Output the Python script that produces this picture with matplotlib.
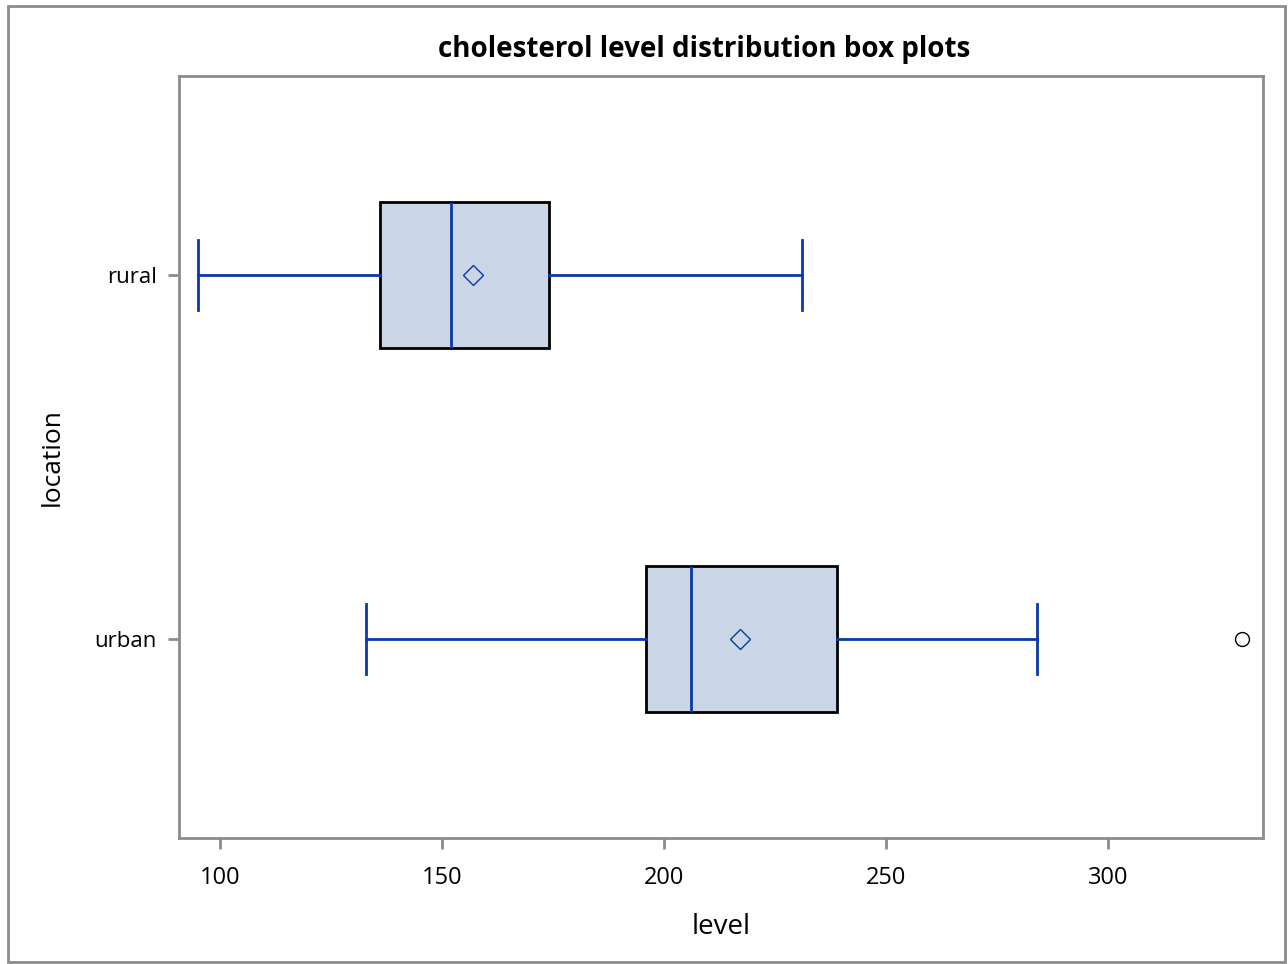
import matplotlib.pyplot as plt
from matplotlib.patches import Rectangle

# box plot statistics
locations = ['urban', 'rural']
whislo = [133, 95]
q1 = [196, 136]
med = [206, 152]
mean = [217, 157]
q3 = [239, 174]
whishi = [284, 231]
outliers = [[330], []]

plt.rcParams['font.family'] = ['Open Sans', 'DejaVu Sans']

blue = '#0a3aa8'
gray = '#8c8c8c'

fig = plt.figure(figsize=(12.88, 9.64), dpi=100)
ax = fig.add_axes([179 / 1288, 1 - 838 / 964, (1263 - 179) / 1288, (838 - 76) / 964])

stats = []
for i in range(len(locations)):
    stats.append(dict(label=locations[i], whislo=whislo[i], q1=q1[i], med=med[i],
                      q3=q3[i], whishi=whishi[i], mean=mean[i], fliers=outliers[i]))

ax.bxp(stats, positions=[0, 1], orientation='horizontal', widths=0.4, capwidths=0.19,
       patch_artist=True, showmeans=True,
       boxprops=dict(facecolor='#cad5e5', edgecolor='black', linewidth=2),
       whiskerprops=dict(color=blue, linewidth=2),
       capprops=dict(color=blue, linewidth=2),
       medianprops=dict(color=blue, linewidth=2),
       meanprops=dict(marker='D', markerfacecolor='none', markeredgecolor=blue,
                      markersize=10, markeredgewidth=1),
       flierprops=dict(marker='o', markerfacecolor='none', markeredgecolor='black',
                       markersize=10, markeredgewidth=1))

ax.set_xlim(90.8, 334.8)
ax.set_ylim(-0.547, 1.547)
ax.set_xticks([100, 150, 200, 250, 300])
ax.set_yticks([0, 1])
ax.set_yticklabels(locations)

for sp in ax.spines.values():
    sp.set_color(gray)
    sp.set_linewidth(2)
ax.tick_params(axis='both', colors=gray, labelcolor='black',
               length=8, width=2)
ax.tick_params(axis='x', pad=12, labelsize=17)
ax.tick_params(axis='y', pad=8, labelsize=16)

ax.set_xlabel('level', fontsize=20, labelpad=17)
ax.set_ylabel('location', fontsize=19, labelpad=21)
ax.set_title('cholesterol level distribution box plots', fontsize=20,
             fontweight='bold', pad=14, x=0.484)

fig.patches.append(Rectangle((8 / 1288, 2 / 964), 1277 / 1288, 956 / 964,
                             transform=fig.transFigure, fill=False,
                             edgecolor=gray, linewidth=2))

fig.savefig('out.png', dpi=100)
